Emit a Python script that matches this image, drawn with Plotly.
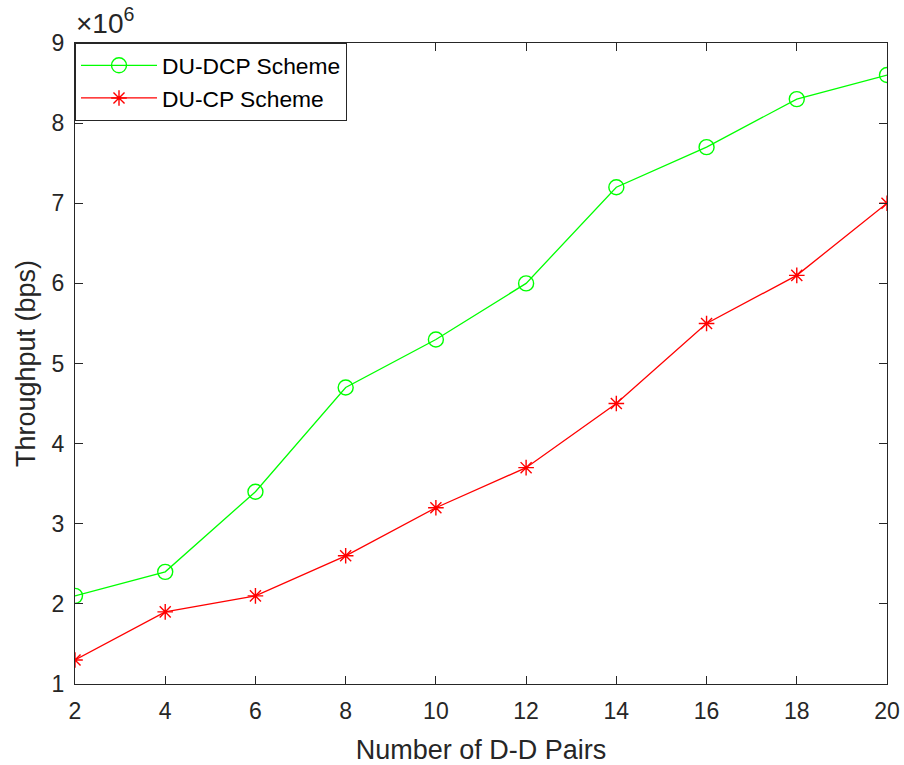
import plotly.graph_objects as go

# Data (throughput in units of 1e6 bps)
pairs = [2, 4, 6, 8, 10, 12, 14, 16, 18, 20]
du_dcp = [2.1, 2.4, 3.4, 4.7, 5.3, 6.0, 7.2, 7.7, 8.3, 8.6]
du_cp = [1.3, 1.9, 2.1, 2.6, 3.2, 3.7, 4.5, 5.5, 6.1, 7.0]
x_ticks = [2, 4, 6, 8, 10, 12, 14, 16, 18, 20]
y_ticks = [1, 2, 3, 4, 5, 6, 7, 8, 9]

FONT = "Liberation Sans, Arial, Helvetica, sans-serif"
AX = "#262626"

fig = go.Figure()
fig.add_trace(go.Scatter(
    x=pairs, y=du_dcp, mode="lines+markers", name="DU-DCP Scheme",
    line=dict(color="#00FF00", width=1.3),
    marker=dict(symbol="circle-open", size=15, color="#00FF00", line=dict(width=1.4)),
))
fig.add_trace(go.Scatter(
    x=pairs, y=du_cp, mode="lines+markers", name="DU-CP Scheme",
    line=dict(color="#FF0000", width=1.3),
    marker=dict(symbol="asterisk-open", size=13, color="#FF0000", line=dict(width=1.4, color="#FF0000")),
))

axis_common = dict(
    showgrid=False, zeroline=False, showline=True, mirror="ticks",
    linecolor=AX, linewidth=1, ticks="inside", ticklen=8, tickcolor=AX,
    tickfont=dict(family=FONT, size=23, color=AX), automargin=False,
)
fig.update_xaxes(range=[2, 20], tickvals=x_ticks, ticklabelstandoff=6,
                 title=dict(text="Number of D-D Pairs", font=dict(family=FONT, size=27, color=AX), standoff=18),
                 **axis_common)
fig.update_yaxes(range=[1, 9], tickvals=y_ticks, ticklabelstandoff=5,
                 title=dict(text="Throughput (bps)", font=dict(family=FONT, size=27, color=AX), standoff=8),
                 **axis_common)

fig.add_annotation(
    xref="paper", yref="paper", x=0, y=1, xanchor="left", yanchor="bottom",
    text="×10<sup>6</sup>", showarrow=False, yshift=2, xshift=-1,
    font=dict(family=FONT, size=28, color=AX),
)

fig.update_layout(
    width=904, height=765,
    margin=dict(l=75, r=17, t=43, b=81),
    paper_bgcolor="white", plot_bgcolor="white",
    legend=dict(
        x=0, y=1, xanchor="left", yanchor="top",
        bgcolor="white", bordercolor=AX, borderwidth=1,
        font=dict(family=FONT, size=22.8, color="black"),
        itemwidth=76, tracegroupgap=2,
    ),
    showlegend=True,
)

fig.write_html("out.html")
